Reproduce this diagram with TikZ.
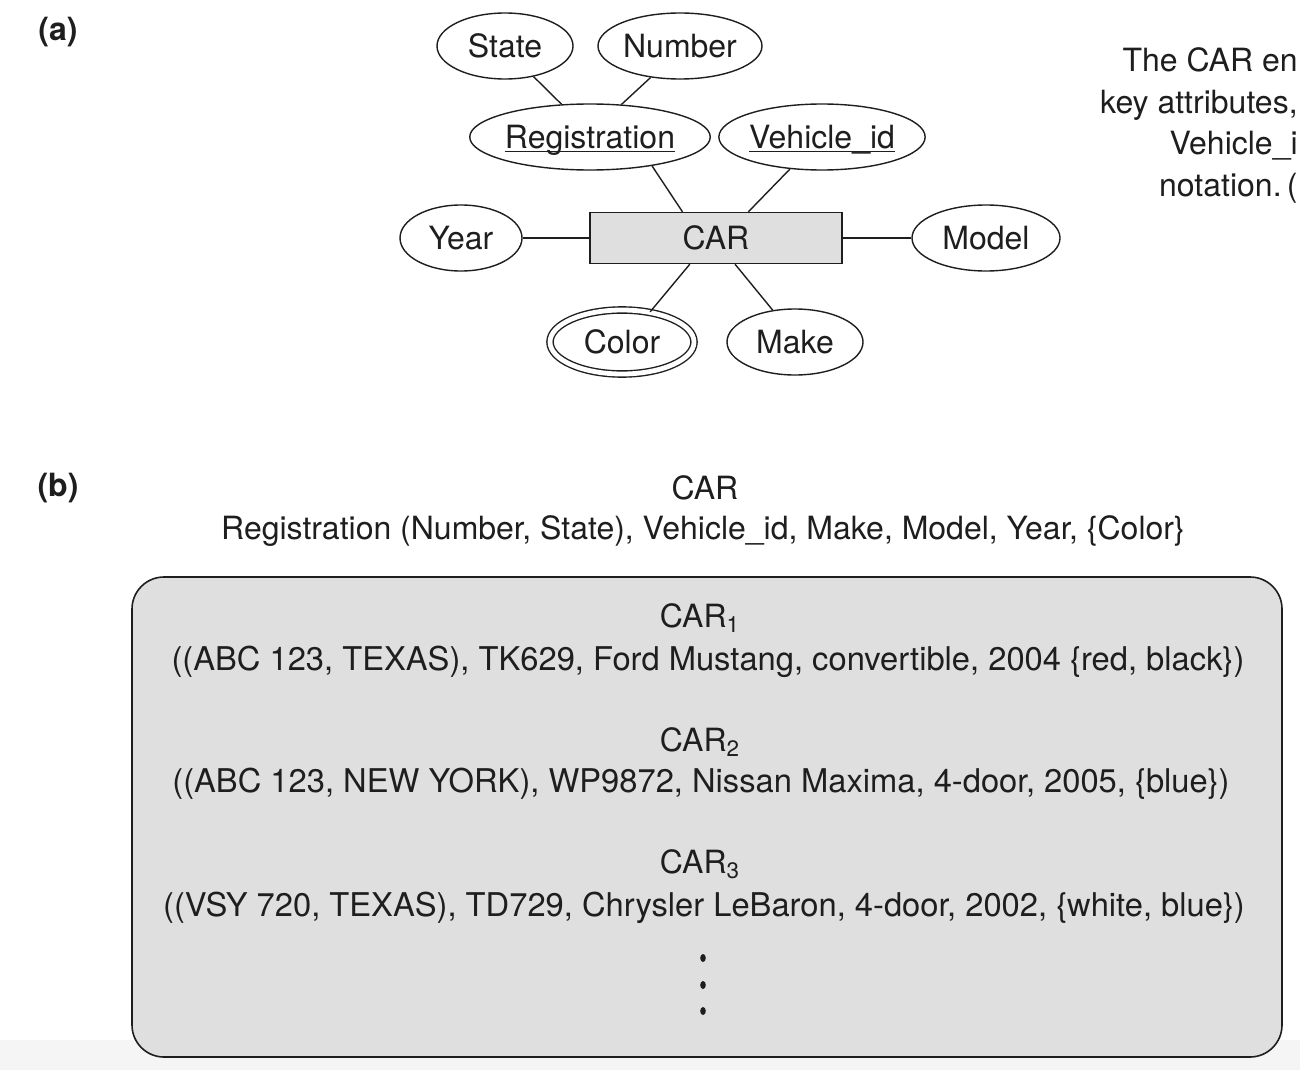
\documentclass[tikz,border=0pt]{standalone}
\usepackage{fontspec}
\setmainfont{TeX Gyre Heros}
\usepackage{tikz}
\usetikzlibrary{shapes.geometric}
\definecolor{boxgray}{HTML}{DFDFDF}
\definecolor{inkgray}{HTML}{1E1E1E}
\newcommand{\keyattr}[1]{\underline{\smash{#1}}}

\begin{document}
\begin{tikzpicture}[x=0.5pt,y=-0.5pt,
		every node/.style={font=\fontsize{16}{19}\selectfont,text=inkgray},
		attr/.style={draw=inkgray,ellipse,line width=0.7pt,inner sep=0pt,minimum height=33pt,text height=11.5pt,text depth=0pt},
		multiattr/.style={attr,double,double distance=2.4pt,minimum height=32pt},
		entity/.style={draw=inkgray,line width=0.7pt,fill=boxgray,minimum width=126pt,minimum height=25.5pt,inner sep=0pt,text height=11.5pt,text depth=0pt},
		tuple/.style={anchor=base,font=\fontsize{16.35}{19}\selectfont},
		caption/.style={anchor=base east,inner sep=0pt}]
		\useasboundingbox (0,0) rectangle (1300,1070);
		\clip (0,0) rectangle (1300,1070);
		\fill[white] (0,0) rectangle (1300,1070);
		\fill[gray!8] (0,1040) rectangle (1300,1070);
		\node[font=\fontsize{16}{19}\selectfont\bfseries] (lbla) at (58,32) {(a)};
		\node[font=\fontsize{16}{19}\selectfont\bfseries] (lblb) at (58,488) {(b)};
		\node[attr,minimum width=68pt] (state) at (505,46) {State};
		\node[attr,minimum width=82pt] (number) at (680,46) {Number};
		\node[attr,minimum width=112pt] (reg) at (590,137) {\keyattr{Registration}};
		\node[attr,minimum width=100pt] (vid) at (822,137) {\keyattr{Vehicle\_id}};
		\node[entity] (car) at (716,238) {CAR};
		\node[attr,minimum width=61pt] (year) at (461,238) {Year};
		\node[attr,minimum width=74pt] (model) at (986,238) {Model};
		\node[multiattr,minimum width=72pt] (color) at (622,342) {Color};
		\node[attr,minimum width=68pt] (make) at (795,342) {Make};
		\path[draw=inkgray,line width=0.7pt]
		(state.-47) edge (reg.131)
		(number.227) edge (reg.46)
		(reg.-25) edge (car.142)
		(vid.-135) edge (car.39)
		(year) edge (car)
		(car) edge (model)
		(color.47) edge (car.-135)
		(make.125) edge (car.-54);
		\node[caption] (cap1) at (1298,72) {The CAR en};
		\node[caption] (cap2) at (1298,113) {key attributes,};
		\node[caption] (cap3) at (1298,155) {Vehicle\_i};
		\node[caption] (cap4) at (1298,196) {notation.\,(};
		\node[anchor=base] (settitle) at (705,499) {CAR};
		\node[anchor=base] (setattrs) at (703,539) {Registration (Number, State), Vehicle\_id, Make, Model, Year, \{Color\}};
		\draw[draw=inkgray,line width=0.8pt,fill=boxgray,rounded corners=16pt] (132,577) rectangle (1282,1057);
		\node[anchor=base] (car1) at (700,627) {CAR\textsubscript{1}};
		\node[tuple] (tuple1) at (708,670) {((ABC 123, TEXAS), TK629, Ford Mustang, convertible, 2004 \{red, black\})};
		\node[anchor=base] (car2) at (700,751) {CAR\textsubscript{2}};
		\node[tuple] (tuple2) at (701,792) {((ABC 123, NEW YORK), WP9872, Nissan Maxima, 4-door, 2005, \{blue\})};
		\node[anchor=base] (car3) at (700,873) {CAR\textsubscript{3}};
		\node[tuple] (tuple3) at (704,916) {((VSY 720, TEXAS), TD729, Chrysler LeBaron, 4-door, 2002, \{white, blue\})};
		\foreach \y in {958,985,1011}
		\fill[inkgray] (703,\y) ellipse [x radius=1.4pt, y radius=2pt];
\end{tikzpicture}
\end{document}
